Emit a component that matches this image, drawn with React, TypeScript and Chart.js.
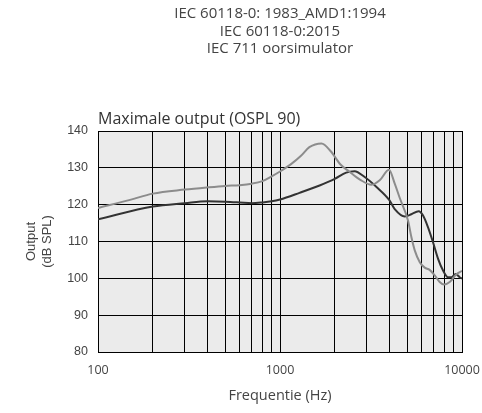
import React, { useEffect, useRef } from "react";
import { Chart, registerables } from "chart.js";

Chart.register(...registerables);

const headerLines = ["IEC 60118-0: 1983_AMD1:1994", "IEC 60118-0:2015", "IEC 711 oorsimulator"];
const chartTitle = "Maximale output (OSPL 90)";
const xTitle = "Frequentie (Hz)";
const yTitle = ["Output", "(dB SPL)"];

const grayFreq = [100, 150, 200, 300, 400, 500, 600, 700, 800, 900, 1000, 1150, 1300, 1450, 1690, 1900, 2150, 2400, 2750, 3180, 3530, 3970, 4270, 4550, 5050, 5270, 5500, 5860, 6240, 6640, 7080, 7540, 7960, 8560, 9320, 10000];
const grayVals = [119.1, 121.3, 123.0, 124.1, 124.7, 125.1, 125.3, 125.7, 126.4, 127.7, 129.0, 131.0, 133.2, 135.6, 136.6, 134.5, 130.9, 129.0, 126.8, 125.4, 126.6, 129.5, 125.7, 121.8, 115.7, 111.2, 107.6, 104.4, 102.9, 102.3, 100.8, 99.0, 98.3, 99.0, 101.1, 102.0];

const darkFreq = [100, 200, 300, 400, 500, 600, 700, 800, 900, 1000, 1280, 1650, 2000, 2310, 2570, 2920, 3390, 3980, 4270, 4850, 5270, 5780, 6100, 6500, 6930, 7390, 7870, 8380, 8740, 9230, 9710, 10000];
const darkVals = [116.0, 119.5, 120.4, 120.9, 120.8, 120.6, 120.4, 120.6, 120.9, 121.4, 123.2, 125.2, 127.0, 128.7, 129.1, 127.5, 124.8, 121.3, 118.8, 116.8, 117.4, 118.2, 117.1, 113.9, 109.8, 105.3, 102.1, 100.3, 100.3, 101.2, 100.3, 99.9];

const xGridValues = [100, 200, 300, 400, 500, 600, 700, 800, 900, 1000, 2000, 3000, 4000, 5000, 6000, 7000, 8000, 9000, 10000];
const xLabelValues = [100, 1000, 10000];
const yMin = 80;
const yMax = 140;
const yStep = 10;

const bgPlugin = {
  id: "plotBg",
  beforeDraw(chart: any) {
    const { ctx, chartArea } = chart;
    ctx.save();
    ctx.fillStyle = "#ebebeb";
    ctx.fillRect(chartArea.left, chartArea.top, chartArea.right - chartArea.left, chartArea.bottom - chartArea.top);
    ctx.restore();
  },
};

export default function App() {
  const ref = useRef<HTMLCanvasElement>(null);
  useEffect(() => {
    document.body.style.margin = "0";
    const toPts = (f: number[], v: number[]) => f.map((x, i) => ({ x, y: v[i] }));
    const chart = new Chart(ref.current!, {
      type: "line",
      data: {
        datasets: [
          {
            data: toPts(grayFreq, grayVals),
            borderColor: "#8c8c8c",
            borderWidth: 2,
            pointRadius: 0,
            cubicInterpolationMode: "monotone",
          },
          {
            data: toPts(darkFreq, darkVals),
            borderColor: "#333333",
            borderWidth: 2,
            pointRadius: 0,
            cubicInterpolationMode: "monotone",
          },
        ],
      },
      options: {
        animation: false,
        responsive: false,
        maintainAspectRatio: false,
        layout: { padding: { top: 131, left: 0, right: 20, bottom: 0 } },
        plugins: { legend: { display: false }, tooltip: { enabled: false } },
        scales: {
          x: {
            type: "logarithmic",
            min: 100,
            max: 10000,
            afterBuildTicks: (s: any) => {
              s.ticks = xGridValues.map((v) => ({ value: v }));
            },
            afterFit: (s: any) => {
              s.height = 61;
            },
            ticks: {
              autoSkip: false,
              maxRotation: 0,
              padding: 2,
              color: "#444",
              font: { family: "'Open Sans'", size: 12.5 },
              callback: (v: any) => (xLabelValues.includes(Number(v)) ? String(v) : ""),
            },
            grid: { color: "#000", lineWidth: 1, drawTicks: true, tickLength: 9, tickColor: "rgba(0,0,0,0)" },
            border: { color: "#000", width: 1 },
            title: {
              display: true,
              text: xTitle,
              color: "#444",
              font: { family: "'Open Sans'", size: 14.5 },
              padding: { top: 4, bottom: 8 },
            },
          },
          y: {
            min: yMin,
            max: yMax,
            afterFit: (s: any) => {
              s.width = 98;
            },
            ticks: {
              stepSize: yStep,
              padding: 10,
              color: "#444",
              font: { family: "'Liberation Sans'", size: 12.5 },
            },
            grid: { color: "#000", lineWidth: 1, drawTicks: false },
            border: { color: "#000", width: 1 },
            title: {
              display: true,
              text: yTitle,
              color: "#444",
              font: { family: "'Liberation Sans'", size: 13 },
              padding: { top: 24, bottom: 0 },
            },
          },
        },
      },
      plugins: [bgPlugin],
    });
    return () => chart.destroy();
  }, []);

  return (
    <div style={{ position: "relative", width: 482, height: 413, fontFamily: "'Open Sans', sans-serif", color: "#444" }}>
      <canvas ref={ref} width={482} height={413} style={{ position: "absolute", left: 0, top: 0 }} />
      <div style={{ position: "absolute", left: 98, width: 364, top: 4, textAlign: "center", fontSize: 15, lineHeight: "17.5px" }}>
        {headerLines.map((l) => (
          <div key={l}>{l}</div>
        ))}
      </div>
      <div style={{ position: "absolute", left: 98, top: 107, fontSize: 16, lineHeight: "22px", color: "#333" }}>{chartTitle}</div>
    </div>
  );
}
